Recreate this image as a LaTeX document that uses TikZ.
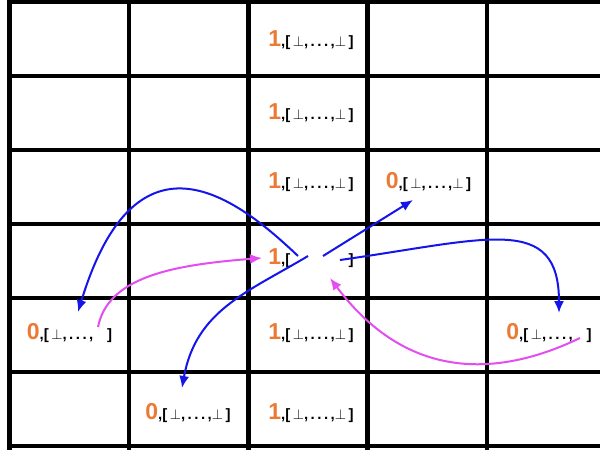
\documentclass[tikz,border=0pt]{standalone}
\usepackage{fontspec}
\setmainfont{Liberation Sans}
\usepackage{xcolor}
\usetikzlibrary{arrows.meta}

\definecolor{valorange}{RGB}{236,122,52}
\definecolor{arrowblue}{RGB}{20,20,235}
\definecolor{arrowpink}{RGB}{228,78,240}

\newcommand{\cellval}[2]{{\color{valorange}\fontsize{23}{23}\selectfont\bfseries #1}{\fontsize{15}{15}\selectfont\bfseries,[\,#2\,]}}
\newcommand{\bots}{$\perp$,\,.\,.\,.\,,$\perp$}
\newcommand{\botsopen}{$\perp$,\,.\,.\,.\,,\phantom{$\perp$}}

\begin{document}
\begin{tikzpicture}[x=1pt,y=-1pt,
    gridline/.style={line width=4.5pt,line cap=rect},
    blue arrow/.style={-{Latex[length=12pt,width=10pt]},line width=2pt,arrowblue},
    pink arrow/.style={-{Latex[length=12pt,width=10pt]},line width=2pt,arrowpink},
    cell/.style={inner sep=1pt}]
  \useasboundingbox (0,0) rectangle (600,450);
  \clip (0,0) rectangle (600,450);
  \fill[white] (0,0) rectangle (600,450);

  % grid
  \foreach \i in {0,...,5}
    \draw[gridline] (9.5+119.4*\i,0) -- (9.5+119.4*\i,448);
  \foreach \j in {0,...,6}
    \draw[gridline] (9.5,2+74*\j) -- (610,2+74*\j);

  % cells
  \node[cell] (c13) at (311,40.5) {\cellval{1}{\bots}};
  \node[cell] (c23) at (311,113) {\cellval{1}{\bots}};
  \node[cell] (c33) at (311,182.5) {\cellval{1}{\bots}};
  \node[cell] (c34) at (428.5,182.5) {\cellval{0}{\bots}};
  \node[cell] (c43) at (311,258.5) {\cellval{1}{\phantom{\bots}}};
  \node[cell] (c51) at (69.5,333.5) {\cellval{0}{\botsopen}};
  \node[cell] (c53) at (311,333.5) {\cellval{1}{\bots}};
  \node[cell] (c55) at (549,333.5) {\cellval{0}{\botsopen}};
  \node[cell] (c62) at (188,413) {\cellval{0}{\bots}};
  \node[cell] (c63) at (311,413) {\cellval{1}{\bots}};

  % arrow ends
  \coordinate (outA) at (298,256);
  \coordinate (outB) at (308,256);
  \coordinate (outC) at (323,256);
  \coordinate (outD) at (340,260);
  \coordinate (inA) at (262,258);
  \coordinate (inB) at (330,278);
  \coordinate (tipA) at (78,312);
  \coordinate (tipB) at (182,388);
  \coordinate (tipC) at (413,200);
  \coordinate (tipD) at (559,313);
  \coordinate (fromA) at (98,327);
  \coordinate (fromB) at (580,338);

  \draw[blue arrow] (outA) .. controls +(-59,-56) and +(59,-194) .. (tipA);
  \draw[blue arrow] (outB) .. controls +(-60,36) and +(14,-78) .. (tipB);
  \draw[blue arrow] (outC) -- (tipC);
  \draw[blue arrow] (outD) .. controls +(148,-21) and +(0,-100) .. (tipD);
  \draw[pink arrow] (fromA) .. controls +(10,-50) and +(-90,7) .. (inA);
  \draw[pink arrow] (fromB) .. controls +(-81,39) and +(78,104) .. (inB);
\end{tikzpicture}
\end{document}
